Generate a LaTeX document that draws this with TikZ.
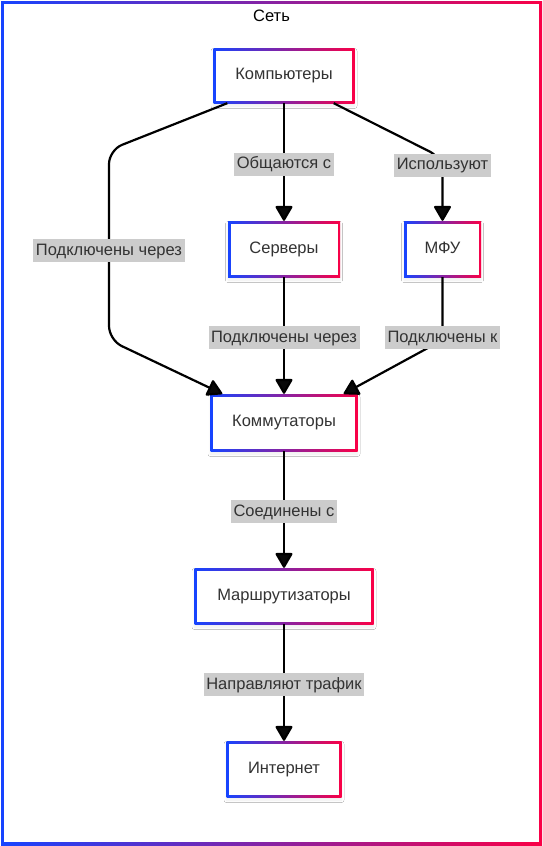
\documentclass[tikz,border=0pt]{standalone}
\usepackage{fontspec}
\setmainfont{Liberation Sans}
\usetikzlibrary{arrows.meta,shadows.blur}
\definecolor{gblue}{RGB}{22,68,255}
\definecolor{gred}{RGB}{250,0,70}
\definecolor{txt}{RGB}{51,51,51}
\definecolor{lblbg}{RGB}{204,204,204}
\tikzset{
  arr/.style={line width=2.2pt, -{Triangle[width=18pt,length=16pt,round=false]}, rounded corners=14pt},
  lbl/.style={fill=lblbg, text=txt, inner xsep=2.5pt, inner ysep=3pt, text height=13pt, text depth=4pt, yshift=-2pt, sharp corners, font=\fontsize{16.5}{19}\selectfont},
  boxtext/.style={text=txt, font=\fontsize{16.5}{19}\selectfont, inner sep=0pt, text height=12pt, text depth=4pt},
}
% name, cx, cy, w, h, text
\newcommand\gbox[6]{%
  \shade[left color=gblue, right color=gred,
    blur shadow={shadow blur steps=5, shadow xshift=0pt, shadow yshift=-3pt, shadow blur radius=2.5pt, shadow opacity=7}]
    ({#2-#4/2},{#3-#5/2}) rectangle ({#2+#4/2},{#3+#5/2});
  \fill[white] ({#2-#4/2+2.5},{#3-#5/2+2.5}) rectangle ({#2+#4/2-2.5},{#3+#5/2-2.5});
  \node[boxtext, minimum width=#4, minimum height=#5] (#1) at (#2,#3) {#6};
}
\begin{document}
\begin{tikzpicture}[x=1pt,y=-1pt]
\useasboundingbox (0,0) rectangle (543,846);
\fill[white] (0,0) rectangle (543,846);
% outer frame
\shade[left color=gblue, right color=gred] (1,1) rectangle (542,845);
\fill[white] (4,4) rectangle (539,842);
\node[font=\fontsize{16.5}{19}\selectfont, text=black] (title) at (271.5,16) {Сеть};

\gbox{comp}{284}{75.5}{141}{55}{Компьютеры}
\gbox{serv}{284}{249}{112}{56}{Серверы}
\gbox{mfu}{442.5}{249}{77}{56}{МФУ}
\gbox{comm}{284}{422.5}{147}{57}{Коммутаторы}
\gbox{rout}{284}{596}{179}{56}{Маршрутизаторы}
\gbox{inet}{284}{769}{115}{56}{Интернет}

\coordinate (lt) at (109,150);
\coordinate (lb) at (109,340);
\coordinate (mt) at (442.5,158);
\coordinate (mb) at (442.5,340);

\draw[arr] (comp.south) -- node[lbl]{Общаются с} (serv.north);
\draw[arr] ([xshift=-21pt]comp.south east) -- (mt) -- node[lbl,pos=0.08]{Используют} (mfu.north);
\draw[arr] ([xshift=14pt]comp.south west) -- (lt) -- node[lbl,pos=0.52]{Подключены через} (lb) -- ([xshift=12pt]comm.north west);
\draw[arr] (serv.south) -- node[lbl]{Подключены через} (comm.north);
\draw[arr] (mfu.south) -- node[lbl,pos=0.93]{Подключены к} (mb) -- ([xshift=-14pt]comm.north east);
\draw[arr] (comm.south) -- node[lbl]{Соединены с} (rout.north);
\draw[arr] (rout.south) -- node[lbl]{Направляют трафик} (inet.north);
\end{tikzpicture}
\end{document}
